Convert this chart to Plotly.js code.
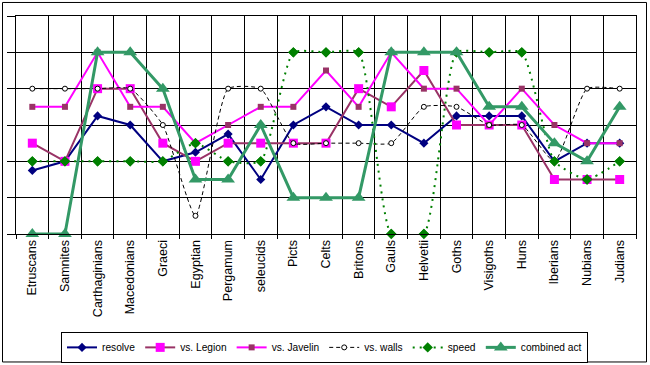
<!DOCTYPE html>
<html>
<head>
<meta charset="utf-8">
<script src="https://cdn.plot.ly/plotly-3.0.1.min.js"></script>
<style>
html,body{margin:0;padding:0;background:#fff;}
#chart{width:650px;height:365px;}
</style>
</head>
<body>
<div id="chart"></div>
<script>
// ---- data ----
var categories = ["Etruscans","Samnites","Carthaginians","Macedonians","Graeci","Egyptian","Pergamum","seleucids","Picts","Celts","Britons","Gauls","Helvetii","Goths","Visigoths","Huns","Iberians","Nubians","Judians"];
var resolve    = [1.75, 2, 3.25, 3, 2, 2.25, 2.75, 1.5, 3, 3.5, 3, 3, 2.5, 3.25, 3.25, 3.25, 2, 2.5, 2.5];
var vsLegion   = [2.5, 2, 4, 4, 2.5, 2, 2.5, 2.5, 2.5, 2.5, 4, 3.5, 4.5, 3, 3, 3, 1.5, 1.5, 1.5];
var vsJavelin  = [3.5, 3.5, 5, 3.5, 3.5, 2.5, 3, 3.5, 3.5, 4.5, 3.5, 5, 4, 4, 3, 4, 3, 2.5, 2.5];
var vsWalls    = [4, 4, 4, 4, 3, 0.5, 4, 4, 2.5, 2.5, 2.5, 2.5, 3.5, 3.5, 3, 3, 2, 4, 4];
var speed      = [2, 2, 2, 2, 2, 2.5, 2, 2, 5, 5, 5, 0, 0, 5, 5, 5, 2, 1.5, 2];
var combined   = [0, 0, 5, 5, 4, 1.5, 1.5, 3, 1, 1, 1, 5, 5, 5, 3.5, 3.5, 2.5, 2, 3.5];
var seriesNames = ["resolve","vs. Legion","vs. Javelin","vs. walls","speed","combined act"];

var traces = [
  {x:categories, y:resolve, name:seriesNames[0], type:"scatter", mode:"lines+markers", cliponaxis:false,
   line:{color:"#000080", width:2}, marker:{symbol:"diamond", size:7, color:"#000080"}},
  {x:categories, y:vsLegion, name:seriesNames[1], type:"scatter", mode:"lines+markers", cliponaxis:false,
   line:{color:"#993366", width:2}, marker:{symbol:"square", size:9, color:"#FF00FF"}},
  {x:categories, y:vsJavelin, name:seriesNames[2], type:"scatter", mode:"lines+markers", cliponaxis:false,
   line:{color:"#FF00FF", width:2}, marker:{symbol:"square", size:6, color:"#993366"}},
  {x:categories, y:vsWalls, name:seriesNames[3], type:"scatter", mode:"lines+markers", cliponaxis:false,
   line:{color:"#000000", width:1, dash:"4px,3px", shape:"spline", smoothing:0.5},
   marker:{symbol:"circle", size:5, color:"#ffffff", line:{color:"#000000", width:1}}},
  {x:categories, y:speed, name:seriesNames[4], type:"scatter", mode:"lines+markers", cliponaxis:true,
   line:{color:"#008000", width:2, dash:"2px,5px", shape:"spline", smoothing:0.5},
   marker:{symbol:"diamond", size:8, color:"#008000"}},
  {x:categories, y:speed, name:seriesNames[4], type:"scatter", mode:"markers", cliponaxis:false, showlegend:false,
   marker:{symbol:"diamond", size:8, color:"#008000"}},
  {x:categories, y:combined, name:seriesNames[5], type:"scatter", mode:"lines+markers", cliponaxis:false,
   line:{color:"#339966", width:3}, marker:{symbol:"triangle-up", size:12, color:"#339966"}}
];

var layout = {
  width:650, height:365,
  margin:{l:16, r:14, t:16, b:131.3, pad:0, autoexpand:false},
  paper_bgcolor:"#ffffff", plot_bgcolor:"#ffffff",
  font:{family:"Arial, 'Liberation Sans', sans-serif", size:12, color:"#000"},
  showlegend:true,
  legend:{orientation:"h", x:0.4976, xanchor:"center", y:-0.449, yanchor:"top",
          bordercolor:"#000", borderwidth:1, bgcolor:"#fff",
          font:{size:10.2}, itemwidth:30, tracegroupgap:0},
  xaxis:{type:"category", range:[-0.5, categories.length - 0.5], tickson:"boundaries",
         showgrid:true, gridcolor:"#000", gridwidth:1,
         ticks:"outside", ticklen:4, tickcolor:"#000", tickangle:-90,
         tickfont:{size:12.5}, showline:true, mirror:true, linecolor:"#000", linewidth:1,
         automargin:false, fixedrange:true},
  yaxis:{range:[0,6], dtick:1, tick0:0, showgrid:true, gridcolor:"#000", gridwidth:1,
         zeroline:false, showticklabels:false, ticks:"outside", ticklen:8, tickcolor:"#000",
         showline:true, mirror:true, linecolor:"#000", linewidth:1, automargin:false, fixedrange:true},
  shapes:[{type:"rect", xref:"paper", yref:"paper",
           x0:(2.5-16)/620, x1:(646.5-16)/620, y0:(233.7-361.5)/217.7, y1:(233.7-2.5)/217.7,
           line:{color:"#000", width:1}, fillcolor:"rgba(0,0,0,0)", layer:"below"}]
};

Plotly.newPlot("chart", traces, layout, {displayModeBar:false, staticPlot:true});
</script>
</body>
</html>
